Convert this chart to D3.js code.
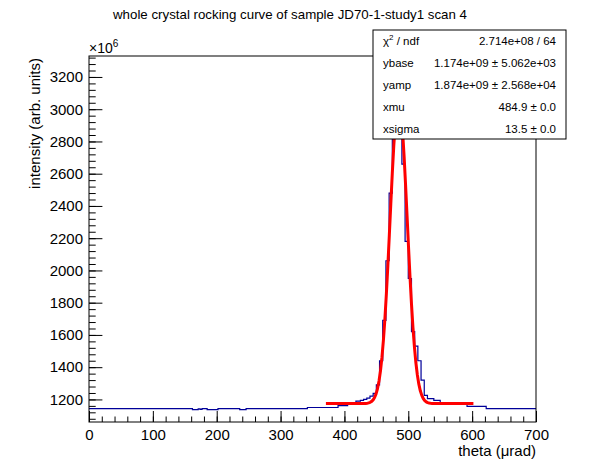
<!DOCTYPE html>
<html>
<head>
<meta charset="utf-8">
<script src="https://cdn.jsdelivr.net/npm/d3@7"></script>
<style>
body { margin: 0; background: #fff; }
text { font-family: "Liberation Sans", Arial, Helvetica, sans-serif; fill: #000; }
</style>
</head>
<body>
<div id="chart"></div>
<script>
'use strict';
// histogram: bin edges in µrad, contents in units of 1e6
const binEdges = [0, 162, 171, 174, 177, 185, 202, 236, 246, 342,
  390, 405, 418, 425, 430, 435, 440, 445, 450, 455,
  460, 465, 470, 475, 480, 485, 490, 495, 500, 505,
  510, 515, 520, 525, 530, 540, 550, 570, 592, 622, 700];
const binCounts = [1143, 1137, 1142, 1138, 1143, 1137, 1143, 1137, 1143, 1150,
  1162, 1172, 1190, 1194, 1200, 1208, 1220, 1237, 1290, 1440,
  1690, 2060, 2480, 2950, 3210, 3120, 2660, 2180, 1950, 1620,
  1530, 1440, 1320, 1225, 1205, 1194, 1179, 1170, 1157, 1143];

// gaussian fit, parameters as printed in the stats box
const fitBase = 1174;
const fitAmp = 1874;
const fitMu = 484.9;
const fitSigma = 13.5;
const fitRange = [371, 602];

const xTicks = [0, 100, 200, 300, 400, 500, 600, 700];
const yTicks = [1200, 1400, 1600, 1800, 2000, 2200, 2400, 2600, 2800, 3000, 3200];
const xDomain = [0, 700];
const yDomain = [1060, 3330];

const statsNames = ['ybase', 'yamp', 'xmu', 'xsigma'];
const statsValues = ['1.174e+09 \u00b1 5.062e+03', '1.874e+09 \u00b1 2.568e+04', '484.9 \u00b1 0.0', '13.5 \u00b1 0.0'];
const chi2Value = '2.714e+08 / 64';

const W = 596, H = 472;
const frame = {left: 89, right: 536, top: 56, bottom: 422};

const svg = d3.select('#chart').append('svg')
  .attr('width', W)
  .attr('height', H);

svg.append('rect').attr('width', W).attr('height', H).attr('fill', '#fff');

const x = d3.scaleLinear().domain(xDomain).range([frame.left, frame.right]);
const y = d3.scaleLinear().domain(yDomain).range([frame.bottom, frame.top]);

// histogram outline
const histPoints = binCounts.map((c, i) => [binEdges[i], c]);
histPoints.push([binEdges[binEdges.length - 1], binCounts[binCounts.length - 1]]);

const histLine = d3.line()
  .x(d => x(d[0]))
  .y(d => y(d[1]))
  .curve(d3.curveStepAfter);

svg.append('path')
  .datum(histPoints)
  .attr('d', histLine)
  .attr('fill', 'none')
  .attr('stroke', '#000099')
  .attr('stroke-width', 1.2);

// fit function, 100 points like ROOT's default npx
const gaus = v => fitBase + fitAmp * Math.exp(-0.5 * Math.pow((v - fitMu) / fitSigma, 2));
const fitPoints = d3.range(0, 101).map(i => {
  const v = fitRange[0] + i * (fitRange[1] - fitRange[0]) / 100;
  return [v, gaus(v)];
});

svg.append('path')
  .datum(fitPoints)
  .attr('d', d3.line().x(d => x(d[0])).y(d => y(d[1])))
  .attr('fill', 'none')
  .attr('stroke', '#ff0000')
  .attr('stroke-width', 3)
  .attr('stroke-linejoin', 'round');

// axes: ticks point into the frame like ROOT does
svg.append('g')
  .attr('transform', `translate(0,${frame.bottom})`)
  .call(d3.axisBottom(x).tickValues(xTicks).tickSize(-11).tickPadding(7).tickFormat(d3.format('d')));
svg.append('g')
  .attr('transform', `translate(0,${frame.bottom})`)
  .call(d3.axisBottom(x).tickValues(d3.range(0, 701, 20)).tickSize(-5.5).tickFormat(''));

svg.append('g')
  .attr('transform', `translate(${frame.left},0)`)
  .call(d3.axisLeft(y).tickValues(yTicks).tickSize(-13.4).tickPadding(6).tickFormat(d3.format('d')));
svg.append('g')
  .attr('transform', `translate(${frame.left},0)`)
  .call(d3.axisLeft(y).tickValues(d3.range(1080, 3330, 40)).tickSize(-6.7).tickFormat(''));

svg.selectAll('.domain').remove();
svg.selectAll('.tick line').attr('stroke', '#000');
svg.selectAll('.tick text')
  .style('font-size', '15px')
  .style('font-family', '"Liberation Sans", Arial, sans-serif');

// frame
svg.append('rect')
  .attr('x', frame.left)
  .attr('y', frame.top)
  .attr('width', frame.right - frame.left)
  .attr('height', frame.bottom - frame.top)
  .attr('fill', 'none')
  .attr('stroke', '#000')
  .attr('stroke-width', 1);

// exponent on top of the y axis
const expo = svg.append('text')
  .attr('x', frame.left)
  .attr('y', 53)
  .style('font-size', '14px');
expo.append('tspan').text('\u00d710');
expo.append('tspan').attr('dy', -6).style('font-size', '10px').text('6');

// axis titles
svg.append('text')
  .attr('x', frame.right)
  .attr('y', 456)
  .attr('text-anchor', 'end')
  .style('font-size', '15px')
  .text('theta (\u03bcrad)');

svg.append('text')
  .attr('transform', `translate(40,${frame.top + 2}) rotate(-90)`)
  .attr('text-anchor', 'end')
  .style('font-size', '15px')
  .text('intensity (arb. units)');

// title
svg.append('text')
  .attr('x', 290)
  .attr('y', 19)
  .attr('text-anchor', 'middle')
  .style('font-size', '13.3px')
  .text('whole crystal rocking curve of sample JD70-1-study1 scan 4');

// stats box
const box = {x: 373, y: 30, w: 193, h: 109};
const rowH = box.h / 5;
const stats = svg.append('g');
stats.append('rect')
  .attr('x', box.x)
  .attr('y', box.y)
  .attr('width', box.w)
  .attr('height', box.h)
  .attr('fill', '#fff')
  .attr('stroke', '#000')
  .attr('stroke-width', 1);

const rowY = i => box.y + rowH * (i + 0.5) + 4.5;

const chiLabel = stats.append('text')
  .attr('x', box.x + 10)
  .attr('y', rowY(0))
  .style('font-size', '11.5px');
chiLabel.append('tspan').text('\u03c7');
chiLabel.append('tspan').attr('dy', -5).style('font-size', '8px').text('2');
chiLabel.append('tspan').attr('dy', 5).text(' / ndf');

stats.append('text')
  .attr('x', box.x + box.w - 10)
  .attr('y', rowY(0))
  .attr('text-anchor', 'end')
  .style('font-size', '11.5px')
  .text(chi2Value);

stats.selectAll('.stat-name')
  .data(statsNames)
  .enter()
  .append('text')
  .attr('class', 'stat-name')
  .attr('x', box.x + 10)
  .attr('y', (d, i) => rowY(i + 1))
  .style('font-size', '11.5px')
  .text(d => d);

stats.selectAll('.stat-value')
  .data(statsValues)
  .enter()
  .append('text')
  .attr('class', 'stat-value')
  .attr('x', box.x + box.w - 10)
  .attr('y', (d, i) => rowY(i + 1))
  .attr('text-anchor', 'end')
  .style('font-size', '11.5px')
  .text(d => d);
</script>
</body>
</html>
